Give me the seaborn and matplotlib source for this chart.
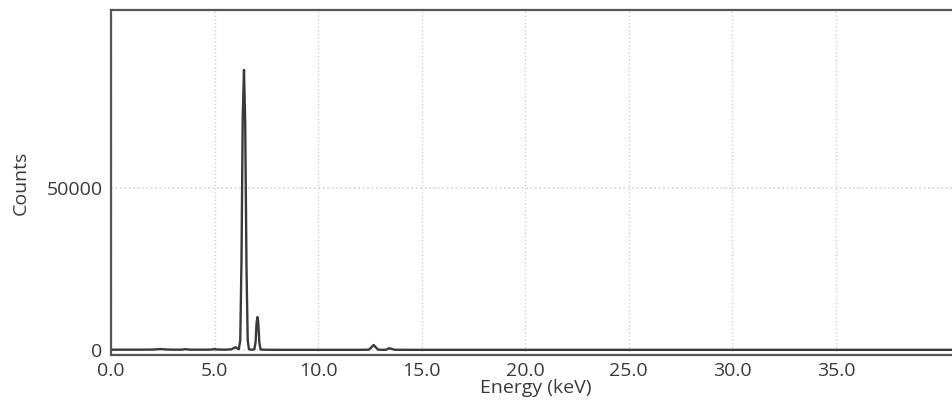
import matplotlib
matplotlib.use("Agg")
import matplotlib.pyplot as plt
import seaborn as sns
import pandas as pd

# EDS spectrum: energy (keV) and detector counts
energy = [0.0, 0.5, 1.0, 1.5, 2.0, 2.2, 2.4, 2.6, 3.0, 3.4, 3.6, 3.8, 4.2, 4.6, 4.9, 5.0, 5.1,
          5.5, 5.8, 5.95, 6.02, 6.08, 6.17, 6.24, 6.30, 6.36, 6.42, 6.48, 6.54, 6.60, 6.66,
          6.75, 6.92, 6.98, 7.03, 7.07, 7.11, 7.16, 7.22, 7.35, 7.6, 8.0, 9.0, 10.0, 11.0,
          12.0, 12.45, 12.58, 12.68, 12.78, 12.9, 13.1, 13.3, 13.42, 13.55, 13.7, 14.5,
          16.0, 20.0, 25.0, 30.0, 35.0, 41.0]
counts = [150, 150, 150, 150, 180, 250, 350, 220, 150, 150, 300, 150, 150, 150, 200, 350, 200,
          150, 250, 700, 900, 600, 300, 3000, 28000, 72000, 86500, 70000, 26000, 3000, 300,
          150, 200, 2500, 8500, 10200, 8500, 2500, 200, 150, 120, 100, 100, 100, 100,
          100, 150, 900, 1600, 900, 150, 100, 150, 600, 400, 120, 100,
          100, 100, 100, 100, 100, 100]

x_ticks = [0, 5, 10, 15, 20, 25, 30, 35]
x_tick_labels = ["0.0", "5.0", "10.0", "15.0", "20.0", "25.0", "30.0", "35.0"]
y_ticks = [0, 50000]
y_tick_labels = ["0", "50000"]

df = pd.DataFrame({"Energy (keV)": energy, "Counts": counts})

sns.set_theme(style="white")
plt.rcParams["font.family"] = ["Open Sans", "DejaVu Sans"]

fig = plt.figure(figsize=(9.53, 4.09), dpi=100)
ax = fig.add_axes([0.1165, 0.132, 0.891, 0.8435])

sns.lineplot(data=df, x="Energy (keV)", y="Counts", ax=ax, color="#3a3a3a",
             linewidth=1.7, sort=False)

ax.set_xlim(0, 41)
ax.set_ylim(-1500, 105000)
ax.set_xticks(x_ticks)
ax.set_xticklabels(x_tick_labels)
ax.set_yticks(y_ticks)
ax.set_yticklabels(y_tick_labels)
ax.tick_params(axis="both", length=0, labelsize=14, colors="#3a3a3a")
ax.tick_params(axis="x", pad=5)
ax.tick_params(axis="y", pad=6)

ax.grid(axis="x", color="#cfcfcf", linestyle=":", linewidth=1.0)
ax.grid(axis="y", color="#c9d6e0", linestyle=":", linewidth=1.2)

ax.set_xlabel("Energy (keV)", fontsize=14, color="#3a3a3a", labelpad=-1)
ax.set_ylabel("Counts", fontsize=14, color="#3a3a3a", labelpad=12)

for side in ["left", "top", "bottom"]:
    ax.spines[side].set_color("#555555")
    ax.spines[side].set_linewidth(1.6)
ax.spines["right"].set_visible(False)

fig.savefig("out.png", dpi=100)
